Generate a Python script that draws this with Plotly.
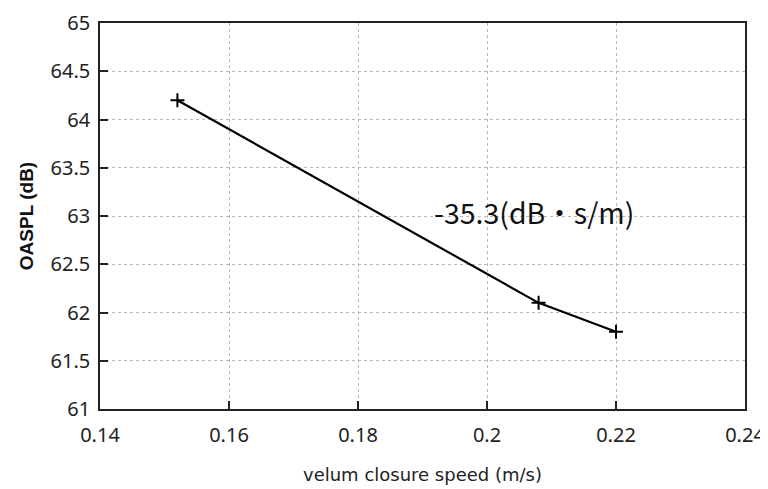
import plotly.graph_objects as go

speed = [0.152, 0.208, 0.22]
oaspl = [64.2, 62.1, 61.8]
x_ticks = [0.14, 0.16, 0.18, 0.2, 0.22, 0.24]
x_labels = ["0.14", "0.16", "0.18", "0.2", "0.22", "0.24"]
y_ticks = [61, 61.5, 62, 62.5, 63, 63.5, 64, 64.5, 65]
y_labels = ["61", "61.5", "62", "62.5", "63", "63.5", "64", "64.5", "65"]
slope_text = "-35.3(dB・s/m)"

fig = go.Figure()
fig.add_trace(go.Scatter(
    x=speed, y=oaspl, mode="lines+markers",
    line=dict(color="black", width=2.2),
    marker=dict(symbol="cross-thin", size=10, line=dict(color="black", width=2)),
    showlegend=False, cliponaxis=False,
))

axis_common = dict(
    showline=True, linecolor="#222", linewidth=1.5, mirror=True,
    ticks="inside", ticklen=8, tickwidth=1.5, tickcolor="#222",
    showgrid=True, gridcolor="#b8b8b8", griddash="dot", gridwidth=1,
    zeroline=False, automargin=False,
    tickfont=dict(family="Noto Sans", size=20, color="#222"),
)

fig.update_xaxes(range=[0.14, 0.24], tickvals=x_ticks, ticktext=x_labels,
                 ticklabelstandoff=7,
                 title=dict(text="velum closure speed (m/s)",
                            font=dict(family="DejaVu Sans", size=18, color="#222"),
                            standoff=22),
                 **axis_common)
fig.update_yaxes(range=[61, 65], tickvals=y_ticks, ticktext=y_labels,
                 ticklabelstandoff=4,
                 title=dict(text="<b>OASPL (dB)</b>",
                            font=dict(family="Liberation Sans", size=19, color="#111"),
                            standoff=12),
                 **axis_common)

fig.add_annotation(x=0.1915, y=63.05, text=slope_text, showarrow=False,
                   xanchor="left", yanchor="middle",
                   font=dict(family="Noto Sans CJK JP", size=28.5, color="#111"))

# the page body adds an 8px offset, so the figure is 8px smaller on each side
fig.update_layout(
    width=760, height=481,
    margin=dict(l=92, r=23, t=15, b=80),
    paper_bgcolor="white", plot_bgcolor="white",
)

fig.write_html("out.html")
